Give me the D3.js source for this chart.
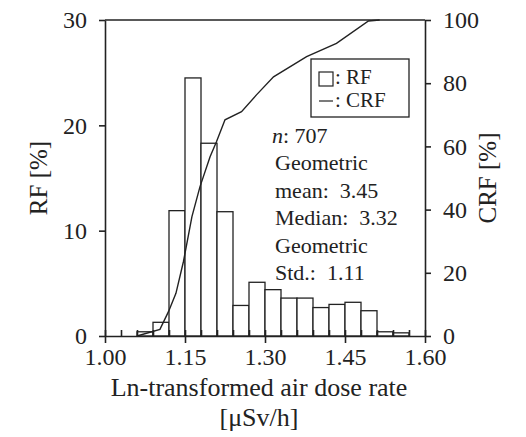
<!DOCTYPE html>
<html>
<head>
<meta charset="utf-8">
<script src="https://cdn.jsdelivr.net/npm/d3@7"></script>
<style>
  body { margin: 0; background: #fff; }
  .axis path, .axis line { stroke: #222; stroke-width: 1.6; }
  .axis text { fill: #222; }
</style>
</head>
<body>
<div id="chart"></div>
<script>
'use strict'

// bins (left edge), width 0.03
const binStarts = [1.06, 1.09, 1.12, 1.15, 1.18, 1.21, 1.24, 1.27, 1.30, 1.33, 1.36, 1.39, 1.42, 1.45, 1.48, 1.51, 1.54]
const binWidth = 0.03
const rf = [0.4, 1.3, 11.9, 24.5, 18.3, 11.8, 2.9, 5.1, 4.4, 3.6, 3.6, 2.7, 3.0, 3.2, 2.4, 0.4, 0.3]

// cumulative relative frequency curve
const crfX = [1.06, 1.103, 1.119, 1.133, 1.147, 1.163, 1.178, 1.197, 1.209, 1.225, 1.256, 1.284, 1.316, 1.378, 1.434, 1.494, 1.515]
const crfY = [0, 2.1, 7.7, 13.5, 23.5, 37.8, 47.2, 56.7, 61.5, 68.4, 71.0, 76.3, 82.0, 88.4, 92.6, 99.7, 100]

const xMajor = [1.00, 1.15, 1.30, 1.45, 1.60]
const xMinor = d3.range(0, 21).map((i) => 1 + i * 0.03)
const yLeftTicks = [0, 10, 20, 30]
const yRightTicks = [0, 20, 40, 60, 80, 100]

const stats = ['Geometric', 'mean:  3.45', 'Median:  3.32', 'Geometric', 'Std.:  1.11']

const width = 526
const height = 437
const margin = { top: 20, right: 101, bottom: 101, left: 105 }
const serif = 'Liberation Serif'
const ink = '#222'

const svg = d3.select('#chart')
  .append('svg')
  .attr('width', width)
  .attr('height', height)

const x = d3.scaleLinear().domain([1.0, 1.6]).range([margin.left, width - margin.right])
const yL = d3.scaleLinear().domain([0, 30]).range([height - margin.bottom, margin.top])
const yR = d3.scaleLinear().domain([0, 100]).range([height - margin.bottom, margin.top])

const label = (sel, size) => sel
  .style('font-family', serif)
  .style('font-size', `${size}px`)
  .style('fill', ink)
  .style('white-space', 'pre')

// bars
svg.append('g')
  .selectAll('rect')
  .data(rf)
  .join('rect')
  .attr('x', (d, i) => x(binStarts[i]))
  .attr('width', (d, i) => x(binStarts[i] + binWidth) - x(binStarts[i]))
  .attr('y', (d) => yL(d))
  .attr('height', (d) => yL(0) - yL(d))
  .attr('fill', '#fff')
  .attr('stroke', ink)
  .attr('stroke-width', 1.3)

// CRF line
const line = d3.line()
  .x((d) => x(d[0]))
  .y((d) => yR(d[1]))

svg.append('path')
  .datum(d3.zip(crfX, crfY))
  .attr('d', line)
  .attr('fill', 'none')
  .attr('stroke', ink)
  .attr('stroke-width', 1.4)

// top border
svg.append('line')
  .attr('x1', x(1.0)).attr('x2', x(1.6))
  .attr('y1', yL(30)).attr('y2', yL(30))
  .attr('stroke', ink).attr('stroke-width', 1.6)

// axes
svg.append('g')
  .attr('class', 'axis')
  .attr('transform', `translate(${x(1.0)},0)`)
  .call(d3.axisLeft(yL).tickValues(yLeftTicks).tickSize(6).tickSizeOuter(0).tickPadding(12).tickFormat(d3.format('d')))
  .call((g) => g.selectAll('text').call(label, 24))

svg.append('g')
  .attr('class', 'axis')
  .attr('transform', `translate(${x(1.6)},0)`)
  .call(d3.axisRight(yR).tickValues(yRightTicks).tickSize(6).tickSizeOuter(0).tickPadding(12).tickFormat(d3.format('d')))
  .call((g) => g.selectAll('text').call(label, 24))

// minor ticks pointing inward
svg.append('g')
  .attr('class', 'axis')
  .attr('transform', `translate(0,${yL(0)})`)
  .call(d3.axisTop(x).tickValues(xMinor).tickSize(6).tickSizeOuter(0).tickFormat(''))
  .call((g) => g.select('.domain').remove())

svg.append('g')
  .attr('class', 'axis')
  .attr('transform', `translate(0,${yL(0)})`)
  .call(d3.axisBottom(x).tickValues(xMajor).tickSize(7).tickSizeOuter(0).tickPadding(5).tickFormat(d3.format('.2f')))
  .call((g) => g.selectAll('text').call(label, 24))

// axis titles
svg.append('text')
  .attr('text-anchor', 'middle')
  .attr('transform', `translate(47,${(yL(0) + yL(30)) / 2}) rotate(-90)`)
  .call(label, 25)
  .text('RF [%]')

svg.append('text')
  .attr('text-anchor', 'middle')
  .attr('transform', `translate(496,${(yL(0) + yL(30)) / 2}) rotate(-90)`)
  .call(label, 25)
  .text('CRF [%]')

svg.append('text')
  .attr('text-anchor', 'middle')
  .attr('x', 259).attr('y', 396)
  .call(label, 26)
  .text('Ln-transformed air dose rate')

svg.append('text')
  .attr('text-anchor', 'middle')
  .attr('x', 259).attr('y', 426)
  .call(label, 26)
  .text('[μSv/h]')

// legend
const legend = svg.append('g')
legend.append('rect')
  .attr('x', 311).attr('y', 59).attr('width', 98).attr('height', 58)
  .attr('fill', '#fff').attr('stroke', ink).attr('stroke-width', 1.3)
legend.append('rect')
  .attr('x', 319).attr('y', 72).attr('width', 14).attr('height', 14)
  .attr('fill', '#fff').attr('stroke', ink).attr('stroke-width', 1.2)
legend.append('text').attr('x', 335).attr('y', 84).call(label, 21).text(': RF')
legend.append('line')
  .attr('x1', 319).attr('x2', 333).attr('y1', 101).attr('y2', 101)
  .attr('stroke', ink).attr('stroke-width', 1.2)
legend.append('text').attr('x', 335).attr('y', 107).call(label, 21).text(': CRF')

// statistics
const nText = svg.append('text').attr('x', 272).attr('y', 143).call(label, 22)
nText.append('tspan').style('font-style', 'italic').text('n')
nText.append('tspan').text(': 707')

svg.append('g')
  .selectAll('text')
  .data(stats)
  .join('text')
  .attr('x', 275)
  .attr('y', (d, i) => 170 + i * 27.6)
  .call(label, 22)
  .text((d) => d)
</script>
</body>
</html>
